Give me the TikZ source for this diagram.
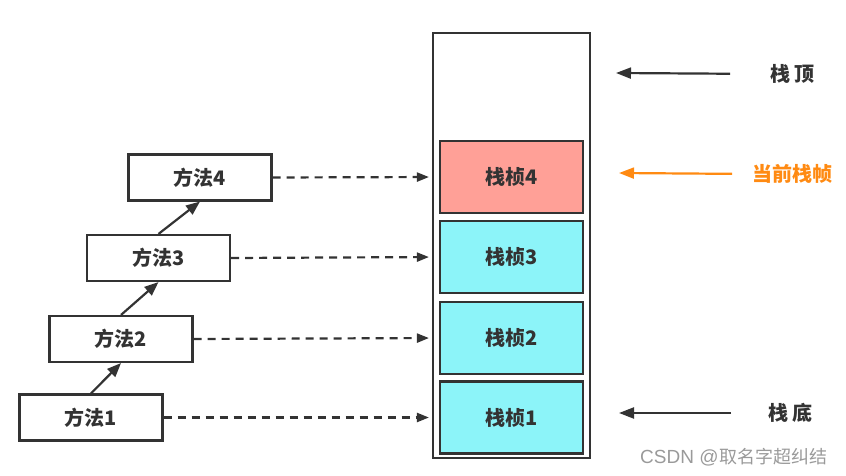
\documentclass[tikz,border=0pt]{standalone}
\usepackage{fontspec}
\newfontfamily\cjk{Noto Sans CJK SC}
\newfontfamily\latinmark{Liberation Sans}
\usetikzlibrary{arrows.meta}
\definecolor{inkgray}{HTML}{333333}
\definecolor{framered}{HTML}{FFA097}
\definecolor{framecyan}{HTML}{8CF4F9}
\definecolor{curorange}{HTML}{FF8A12}
\definecolor{markgray}{HTML}{9A9A9A}
\begin{document}
\begin{tikzpicture}[x=1pt,y=-1pt,
	methodbox/.style={draw=inkgray,line width=2.1pt,fill=white,minimum width=143pt,minimum height=46pt,inner sep=0pt,text=inkgray,font=\cjk\bfseries\fontsize{20pt}{20pt}\selectfont},
	framebox/.style={methodbox,minimum height=72pt,fill=framecyan},
	stackbox/.style={draw=inkgray,line width=2.1pt,minimum width=157pt,minimum height=425pt,inner sep=0pt},
	marklabel/.style={inner sep=0pt,anchor=west,text=inkgray,font=\cjk\bfseries\fontsize{20pt}{20pt}\selectfont},
	callarrow/.style={draw=inkgray,line width=2.2pt,-{Triangle[length=14pt,width=11pt]}},
	linkarrow/.style={draw=inkgray,line width=2.2pt,dash pattern=on 8pt off 6pt,-{Triangle[length=12pt,width=9pt]},shorten >=10pt},
	markarrow/.style={draw=inkgray,line width=2.2pt,-{Triangle[length=15pt,width=11pt]}}]
	\useasboundingbox (0,0) rectangle (846,476);
	\node[stackbox] (stack) at (511.5,245.5) {};
	\node[framebox,fill=framered] (f4) at (511.5,177) {栈桢4};
	\node[framebox] (f3) at (511.5,257) {栈桢3};
	\node[framebox] (f2) at (511.5,338) {栈桢2};
	\node[framebox] (f1) at (511.5,417.5) {栈桢1};
	\node[methodbox] (m1) at (91,417.5) {方法1};
	\node[methodbox] (m2) at (121,339) {方法2};
	\node[methodbox] (m3) at (158.5,258) {方法3};
	\node[methodbox] (m4) at (200,177.5) {方法4};
	\draw[callarrow] (m1.north) -- (m2.south);
	\draw[callarrow] (m2.north) -- (m3.south);
	\draw[callarrow] (m3.north) -- (m4.south);
	\draw[linkarrow] (m1.east) -- (f1.west);
	\draw[linkarrow] (m2.east) -- (f2.west);
	\draw[linkarrow] (m3.east) -- (f3.west);
	\draw[linkarrow] (m4.east) -- (f4.west);
	\node[marklabel] (top) at (770,74) {栈 顶};
	\node[marklabel,text=curorange] (cur) at (752,174) {当前栈帧};
	\node[marklabel] (bot) at (768,413) {栈 底};
	\coordinate (toptip) at (616,73);
	\coordinate (curtip) at (619,173);
	\coordinate (bottip) at (619,413);
	\draw[markarrow,shorten <=40pt] (top.west) -- (toptip);
	\draw[markarrow,draw=curorange,shorten <=20pt] (cur.west) -- (curtip);
	\draw[markarrow,shorten <=37pt] (bot.west) -- (bottip);
	\node[inner sep=0pt,anchor=west,text=markgray] (mark) at (640,457) {\latinmark\fontsize{19pt}{19pt}\selectfont CSDN @\hspace{1pt}\cjk\fontsize{18pt}{18pt}\selectfont 取名字超纠结};
\end{tikzpicture}
\end{document}
